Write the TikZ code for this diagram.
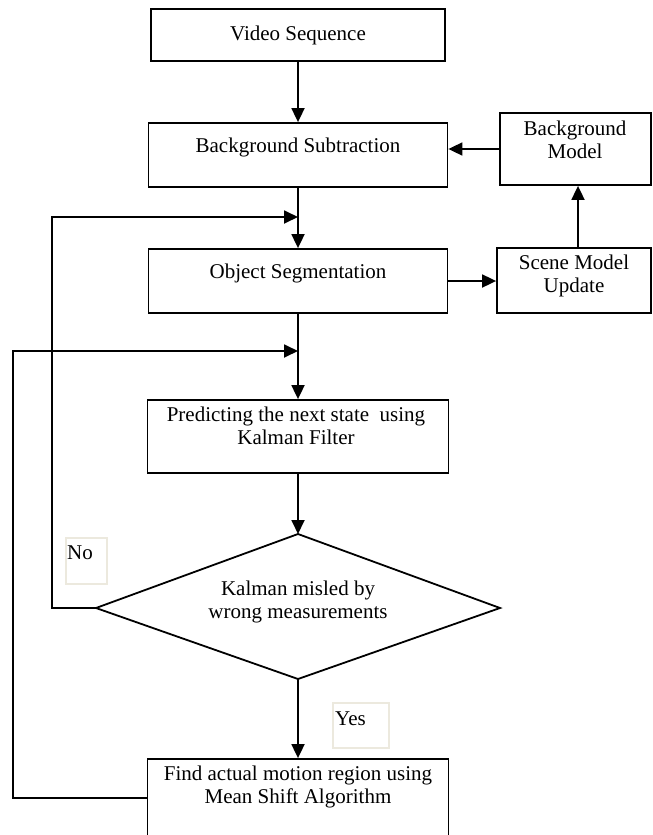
\documentclass[tikz,border=0pt]{standalone}
\usepackage{fontspec}
\setmainfont{Liberation Serif}
\usetikzlibrary{arrows.meta}
\definecolor{lblc}{RGB}{236,233,222}
\begin{document}
\begin{tikzpicture}[x=1pt,y=-1pt,
  box/.style={draw, line width=1.8pt, inner sep=0pt, rectangle},
  txt/.style={font=\fontsize{21}{23.5}\selectfont, align=center, inner sep=0pt},
  lbl/.style={draw=lblc, line width=1.4pt, inner sep=0pt, rectangle},
  link/.style={line width=1.8pt},
  arr/.style={link, -{Triangle[length=14pt,width=13pt]}}
]
\useasboundingbox (0,0) rectangle (653,835);

% boxes
\node[box, minimum width=294pt, minimum height=52pt] (vs) at (298,35) {};
\node[box, minimum width=299pt, minimum height=64pt] (bs) at (298,155) {};
\node[box, minimum width=151pt, minimum height=72pt] (bm) at (575.5,149) {};
\node[box, minimum width=299pt, minimum height=64pt] (os) at (298,281) {};
\node[box, minimum width=154pt, minimum height=65pt] (sm) at (574,280.5) {};
\node[box, minimum width=301pt, minimum height=73pt] (pk) at (298,436.5) {};
\node[box, minimum width=301pt, minimum height=78pt] (fm) at (298,798) {};

% diamond
\coordinate (dT) at (298,534);
\coordinate (dR) at (500,608);
\coordinate (dB) at (298,679);
\coordinate (dL) at (96,608);
\draw[link, line join=miter] (dT) -- (dR) -- (dB) -- (dL) -- cycle;

% texts
\node[txt] (vst) at (298,35) {Video Sequence};
\node[txt] (bst) at (298,147) {Background Subtraction};
\node[txt] (bmt) at (575,140) {Background\\Model};
\node[txt] (ost) at (298,273) {Object Segmentation};
\node[txt] (smt) at (574,276) {Scene Model\\Update};
\node[txt] (pkt) at (296,426) {Predicting the next state \ using\\Kalman Filter};
\node[txt] (dt) at (298,602) {Kalman misled by\\wrong measurements};
\node[txt] (fmt) at (298,787) {Find actual motion region using\\Mean Shift Algorithm};

% labels
\node[lbl, minimum width=41pt, minimum height=46pt] (nob) at (86.5,561) {};
\node[txt, anchor=west] (not) at (67,553) {No};
\node[lbl, minimum width=56pt, minimum height=45pt] (yesb) at (361,725.5) {};
\node[txt, anchor=west] (yest) at (335,719) {Yes};

% junctions
\coordinate (j1) at (298,217);
\coordinate (j2) at (298,351);

% connectors
\draw[arr] (vs.south) -- (bs.north);
\draw[arr] (bs.south) -- (os.north);
\draw[arr] (bm.west) -- (bm.west -| bs.east);
\draw[arr] (os.east) -- (os.east -| sm.west);
\draw[arr] (sm.north -| 578,0) -- (bm.south -| 578,0);
\draw[arr] (os.south) -- (pk.north);
\draw[arr] (pk.south) -- (dT);
\draw[arr] (dB) -- (fm.north);
\draw[arr] (dL) -- ++(-44,0) |- (j1);
\draw[arr] (fm.west) -- ++(-134,0) |- (j2);
\end{tikzpicture}
\end{document}
